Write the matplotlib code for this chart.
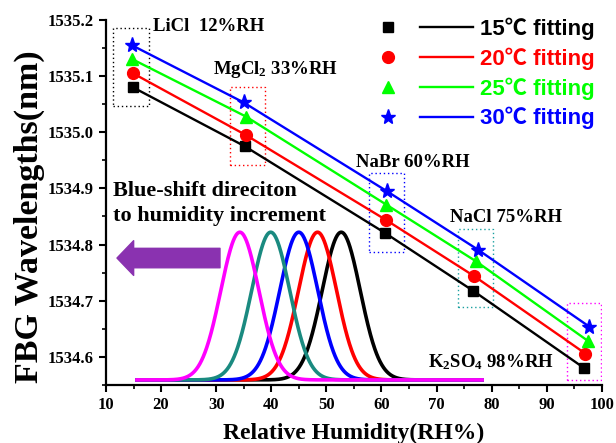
import numpy as np
import matplotlib
matplotlib.use("Agg")
import matplotlib.pyplot as plt
from matplotlib.lines import Line2D
from matplotlib.patches import Rectangle
from matplotlib.legend_handler import HandlerTuple
from matplotlib.ticker import MultipleLocator, FormatStrFormatter

# ---- data ----
salts = ["LiCl  12%RH", "MgCl$_2$ 33%RH", "NaBr 60%RH", "NaCl 75%RH", "K$_2$SO$_4$ 98%RH"]
temps = ["15", "20", "25", "30"]
rh_15 = [14.9, 35.2, 60.6, 76.6, 96.8]
rh_20 = [14.9, 35.4, 60.8, 76.8, 97.0]
rh_25 = [14.8, 35.4, 60.9, 77.2, 97.4]
rh_30 = [14.7, 35.0, 61.0, 77.5, 97.7]
wl_15 = [1535.080, 1534.975, 1534.821, 1534.718, 1534.580]
wl_20 = [1535.105, 1534.995, 1534.844, 1534.744, 1534.606]
wl_25 = [1535.130, 1535.028, 1534.871, 1534.770, 1534.629]
wl_30 = [1535.155, 1535.053, 1534.895, 1534.791, 1534.654]

# schematic FBG spectra (peak centre on the RH axis)
peak_centres = [52.7, 48.4, 45.0, 39.9, 34.3]
peak_colors = ["black", "red", "blue", "#1a8a80", "magenta"]
peak_base = 1534.559
peak_top = 1534.822
peak_sigma = 3.45
peak_range = (15.3, 78.6)

colors = ["black", "red", "#00ff00", "blue"]
markers = ["s", "o", "^", "*"]
msizes = [7.5, 8.5, 8.5, 11]

plt.rcParams["font.family"] = ["Liberation Serif"]
plt.rcParams["font.weight"] = "bold"
plt.rcParams["mathtext.fontset"] = "custom"
plt.rcParams["mathtext.rm"] = "Liberation Serif:bold"
plt.rcParams["mathtext.it"] = "Liberation Serif:bold:italic"
plt.rcParams["mathtext.bf"] = "Liberation Serif:bold"
plt.rcParams["mathtext.default"] = "rm"

fig = plt.figure(figsize=(6.16, 4.43), dpi=100)
ax = fig.add_axes([0.172, 0.131, 0.805, 0.824])

# spectra
xs = np.linspace(peak_range[0], peak_range[1], 800)
for c, col in zip(peak_centres, peak_colors):
    ys = peak_base + (peak_top - peak_base) * np.exp(-0.5 * ((xs - c) / peak_sigma) ** 2)
    ax.plot(xs, ys, color=col, lw=2.6, solid_capstyle="butt", zorder=2)

# dotted boxes around each salt group
boxes = [(11.3, 17.8, 1535.047, 1535.186, "black"),
         (32.5, 38.9, 1534.942, 1535.081, "red"),
         (57.7, 64.1, 1534.787, 1534.928, "blue"),
         (73.9, 80.2, 1534.689, 1534.828, "#1aa0a0"),
         (93.7, 99.9, 1534.559, 1534.696, "magenta")]
for x0, x1, y0, y1, col in boxes:
    ax.add_patch(Rectangle((x0, y0), x1 - x0, y1 - y0, fill=False, ec=col,
                           ls=(0, (1, 2)), lw=1.0, zorder=1))

# series
handles = []
for rh, wl, col, mk, ms in zip([rh_15, rh_20, rh_25, rh_30], [wl_15, wl_20, wl_25, wl_30],
                               colors, markers, msizes):
    ax.plot(rh, wl, color=col, lw=1.7, zorder=3)
    ax.plot(rh, wl, ls="none", marker=mk, ms=ms, color=col, zorder=4)
    handles.append((Line2D([], [], ls="none", marker=mk, ms=ms, color=col),
                    Line2D([], [], color=col, lw=1.7)))

# salt labels
label_pos = [(18.5, 1535.188), (29.4, 1535.111), (55.4, 1534.946), (72.4, 1534.849), (68.4, 1534.591)]
for s, (lx, ly) in zip(salts, label_pos):
    ax.text(lx, ly, s, fontsize=13.5, fontweight="bold", va="center", ha="left")

ax.text(11.2, 1534.873, "Blue-shift direciton\nto humidity increment", fontsize=16,
        fontweight="bold", va="center", ha="left", linespacing=1.3)

ax.annotate("", xy=(12.0, 1534.776), xytext=(30.7, 1534.776),
            arrowprops=dict(arrowstyle="simple,head_length=12,head_width=25,tail_width=14",
                            mutation_scale=1, fc="#8a32b0", ec="#8a32b0", shrinkA=0, shrinkB=0))

leg = ax.legend(handles, [t + "\u2103 fitting" for t in temps],
                handler_map={tuple: HandlerTuple(ndivide=None, pad=0.26)},
                loc="upper right", bbox_to_anchor=(0.983, 0.985), bbox_transform=fig.transFigure,
                frameon=False, handlelength=5.0, handletextpad=0.3, labelspacing=0.33,
                borderpad=0, prop=dict(family=["Liberation Sans", "Noto Sans CJK SC"],
                                       weight="bold", size=16))
for t, col in zip(leg.get_texts(), colors):
    t.set_color(col)

ax.set_xlim(10, 100)
ax.set_ylim(1534.55, 1535.2)
ax.xaxis.set_major_locator(MultipleLocator(10))
ax.xaxis.set_minor_locator(MultipleLocator(5))
ax.yaxis.set_major_locator(MultipleLocator(0.1))
ax.yaxis.set_minor_locator(MultipleLocator(0.05))
ax.yaxis.set_major_formatter(FormatStrFormatter("%.1f"))
for side in ["top", "right"]:
    ax.spines[side].set_visible(False)
for side in ["left", "bottom"]:
    ax.spines[side].set_linewidth(1.6)
ax.tick_params(which="major", direction="out", length=5, width=1.5, labelsize=12, pad=4)
ax.tick_params(which="minor", direction="out", length=3, width=1.2)

ax.set_xlabel("Relative Humidity(RH%)", fontsize=17, fontweight="bold", labelpad=7)
ax.set_ylabel("FBG Wavelengths(nm)", fontsize=24.5, fontweight="bold", va="center")
ax.yaxis.set_label_coords(-0.155, 0.462)

fig.canvas.draw()
for lab in ax.get_xticklabels() + ax.get_yticklabels():
    lab.set_fontfamily("Liberation Serif")
    lab.set_fontweight("bold")

fig.savefig("out.png", dpi=100)
